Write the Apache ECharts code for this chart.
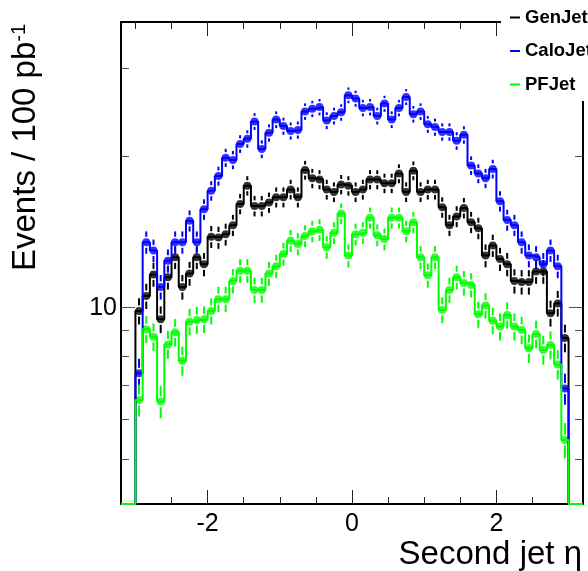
<!DOCTYPE html>
<html><head><meta charset="utf-8">
<script src="https://cdn.jsdelivr.net/npm/echarts@6/dist/echarts.min.js"></script>
<style>html,body{margin:0;padding:0;background:#fff}#c{width:588px;height:571px}</style>
</head><body><div id="c"></div>
<script>
// ---- data ----
const seriesNames = ['GenJet', 'CaloJet', 'PFJet'];
const seriesColors = ['#000000', '#0000ff', '#00ff00'];
const ETA_LOW = -3.0;      // first bin low edge
const BIN_WIDTH = 0.1;     // histogram bin width

const genJet = [9.85,10.55,11.65,9.48,11.5,12.6,11.0,11.7,12.6,12.2,
  13.85,13.8,14.0,14.6,16.1,17.5,15.95,15.95,16.2,16.6,
  16.6,17.2,16.6,18.8,18.1,18.0,17.2,17.0,17.6,17.5,
  17.0,17.2,18.0,18.0,17.7,17.7,18.5,17.0,18.75,17.0,
  17.2,17.2,15.85,14.6,15.2,15.8,14.8,14.4,12.7,13.3,
  12.5,12.2,11.3,11.25,11.25,11.8,11.8,9.75,10.2,8.7];
const genJetErr = [0.59,0.61,0.64,0.58,0.63,0.66,0.62,0.64,0.66,0.65,
  0.70,0.70,0.70,0.71,0.75,0.78,0.75,0.75,0.75,0.76,
  0.76,0.78,0.76,0.81,0.80,0.79,0.78,0.77,0.78,0.78,
  0.77,0.78,0.79,0.79,0.79,0.79,0.80,0.77,0.81,0.77,
  0.78,0.78,0.74,0.71,0.73,0.74,0.72,0.71,0.67,0.68,
  0.66,0.65,0.63,0.63,0.63,0.64,0.64,0.58,0.60,0.55];

const caloJet = [7.4,13.5,13.0,11.0,12.4,13.5,13.5,14.9,13.5,15.7,
  17.1,18.3,19.9,19.7,21.2,21.7,23.5,20.7,22.3,23.7,
  23.0,22.5,22.6,24.6,24.9,25.1,23.6,24.1,24.5,26.5,
  26.1,25.0,25.1,24.1,25.5,23.7,25.0,26.3,24.3,24.6,
  23.2,22.9,22.4,22.4,21.5,22.1,19.2,18.5,18.1,18.9,
  16.3,14.95,14.6,13.5,12.7,12.6,12.2,13.0,12.1,6.9];
const caloJetErr = [0.51,0.69,0.67,0.62,0.66,0.69,0.69,0.72,0.69,0.74,
  0.77,0.80,0.83,0.83,0.86,0.87,0.91,0.85,0.88,0.91,
  0.90,0.89,0.89,0.93,0.93,0.94,0.91,0.92,0.93,0.96,
  0.96,0.94,0.94,0.92,0.94,0.91,0.94,0.96,0.92,0.93,
  0.90,0.90,0.89,0.89,0.87,0.88,0.82,0.80,0.80,0.81,
  0.76,0.72,0.71,0.69,0.67,0.66,0.65,0.67,0.65,0.49];

const pfJet = [6.55,9.06,8.75,6.5,8.45,8.93,7.84,9.38,9.45,9.48,
  9.85,10.4,10.4,11.3,11.85,11.85,10.85,10.85,11.7,12.1,
  12.8,13.6,13.4,13.9,14.2,14.3,13.2,14.1,15.4,12.7,
  14.0,14.1,15.1,13.95,13.7,15.1,15.1,14.2,14.8,12.6,
  11.6,12.6,9.9,10.85,11.5,11.2,11.1,9.7,10.1,9.42,
  9.17,9.67,9.17,9.03,8.3,8.86,8.24,8.43,7.71,5.45];
const pfJetErr = [0.48,0.56,0.55,0.48,0.54,0.56,0.52,0.57,0.58,0.58,
  0.59,0.60,0.60,0.63,0.64,0.64,0.62,0.62,0.64,0.65,
  0.67,0.69,0.68,0.70,0.70,0.71,0.68,0.70,0.73,0.67,
  0.70,0.70,0.73,0.70,0.69,0.73,0.73,0.70,0.72,0.66,
  0.64,0.66,0.59,0.62,0.63,0.63,0.62,0.58,0.59,0.57,
  0.57,0.58,0.57,0.56,0.54,0.56,0.54,0.54,0.52,0.44];

const xMajorTicks = [-2, 0, 2];
const xMinorTicks = [-3, -2.5, -1.5, -1, -0.5, 0.5, 1, 1.5, 2.5, 3];
const yMajorTicks = [10];
const yMinorTicks = [5, 6, 7, 8, 9, 20, 30];

// axis ranges
const X_MIN = -3.2, X_MAX = 3.2;
const Y_MIN = 4.064, Y_MAX = 37.08;

const FONT = '"Liberation Sans", Arial, Helvetica, sans-serif';

// ---- build library data ----
const values = [genJet, caloJet, pfJet];
const errors = [genJetErr, caloJetErr, pfJetErr];

function round(v) { return Math.round(v * 1000) / 1000; }
function stepData(vals) {
  const d = [[X_MIN, Y_MIN], [ETA_LOW, Y_MIN]];
  vals.forEach((v, i) => {
    const lo = round(ETA_LOW + i * BIN_WIDTH);
    d.push([lo, v], [round(lo + BIN_WIDTH), v]);
  });
  d.push([round(ETA_LOW + vals.length * BIN_WIDTH), Y_MIN], [X_MAX, Y_MIN]);
  return d;
}
function pointData(vals, errs) {
  return vals.map((v, i) => [round(ETA_LOW + (i + 0.5) * BIN_WIDTH), v, errs[i]]);
}

const series = [];
values.forEach((vals, k) => {
  const color = seriesColors[k];
  series.push({
    name: seriesNames[k], type: 'line', data: stepData(vals),
    showSymbol: false, symbol: 'none', color: color,
    lineStyle: { color: color, width: 2 }, xAxisIndex: 0, yAxisIndex: 0,
    animation: false, silent: true
  });
  series.push({
    name: seriesNames[k] + ' err', type: 'custom', data: pointData(vals, errors[k]),
    xAxisIndex: 0, yAxisIndex: 0, animation: false, silent: true,
    encode: { x: 0, y: 1 },
    renderItem: function (params, api) {
      const x = api.value(0), v = api.value(1), e = api.value(2);
      const c = api.coord([x, v]);
      const t = api.coord([x, v + e]);
      const b = api.coord([x, v - e]);
      const gap = 5.5;
      const ch = [];
      if (c[1] - gap > t[1]) ch.push({ type: 'line', shape: { x1: c[0], y1: c[1] - gap, x2: c[0], y2: t[1] }, style: { stroke: color, lineWidth: 2 } });
      if (c[1] + gap < b[1]) ch.push({ type: 'line', shape: { x1: c[0], y1: c[1] + gap, x2: c[0], y2: b[1] }, style: { stroke: color, lineWidth: 2 } });
      return { type: 'group', children: ch };
    }
  });
  series.push({
    name: seriesNames[k] + ' pts', type: 'scatter', data: pointData(vals, errors[k]).map(p => [p[0], p[1]]),
    symbol: 'circle', symbolSize: 8, itemStyle: { color: color },
    xAxisIndex: 0, yAxisIndex: 0, animation: false, silent: true
  });
});

function xAxis(pos, ticks, len, labels, line) {
  return {
    type: 'value', position: pos, min: X_MIN, max: X_MAX, gridIndex: 0,
    axisLine: { show: line, onZero: false, lineStyle: { color: '#000', width: 2 } },
    axisTick: { show: true, inside: true, length: len, customValues: ticks, lineStyle: { color: '#222', width: 1 } },
    axisLabel: labels ? { show: true, customValues: labels, margin: 8, color: '#000', fontSize: 25, fontFamily: FONT,
      formatter: v => String(v) } : { show: false },
    splitLine: { show: false }
  };
}
function yAxis(pos, ticks, len, labels, line) {
  return {
    type: 'log', position: pos, min: Y_MIN, max: Y_MAX, gridIndex: 0, logBase: 10,
    axisLine: { show: line, onZero: false, lineStyle: { color: '#000', width: 2 } },
    axisTick: { show: true, inside: true, length: len, customValues: ticks, lineStyle: { color: '#555', width: 1 } },
    axisLabel: labels ? { show: true, customValues: labels, margin: 4, color: '#000', fontSize: 25, fontFamily: FONT,
      padding: [4, 0, 0, 0], formatter: v => String(Math.round(v)) } : { show: false },
    splitLine: { show: false }, minorTick: { show: false }, minorSplitLine: { show: false }
  };
}

const option = {
  backgroundColor: '#fff',
  animation: false,
  grid: { left: 121, right: 5, top: 22, bottom: 67, containLabel: false, outerBoundsMode: 'none' },
  xAxis: [
    xAxis('bottom', xMajorTicks, 14, xMajorTicks, true),
    xAxis('bottom', xMinorTicks, 7, null, false),
    xAxis('top', xMajorTicks, 14, null, true),
    xAxis('top', xMinorTicks, 7, null, false)
  ],
  yAxis: [
    yAxis('left', yMajorTicks, 14, yMajorTicks, true),
    yAxis('left', yMinorTicks, 8, null, false),
    yAxis('right', yMajorTicks, 14, null, true),
    yAxis('right', yMinorTicks, 8, null, false)
  ],
  legend: {
    data: seriesNames, orient: 'vertical', left: 501, top: 0,
    padding: [8, 6, 7, 9], itemGap: 14.5, itemWidth: 10, itemHeight: 2, itemTextGap: 0,
    icon: 'rect', backgroundColor: '#fff', selectedMode: false, z: 20,
    textStyle: { fontFamily: FONT, fontWeight: 'bold', fontSize: 18.5, color: '#000' }
  },
  graphic: [
    { type: 'text', x: 582, y: 555, z: 30,
      style: { text: 'Second jet η', font: '33px ' + FONT, align: 'right', verticalAlign: 'middle', fill: '#000' } },
    { type: 'text', x: 26, y: 271, rotation: Math.PI / 2, z: 30,
      style: { text: '{a|Events / 100 pb}{s|-1}', align: 'left', verticalAlign: 'middle', fill: '#000',
        rich: { a: { fontSize: 33, fontFamily: FONT, fill: '#000' }, s: { fontSize: 20, fontFamily: FONT, fill: '#000', verticalAlign: 'top' } } } }
  ],
  series: series
};

const chart = echarts.init(document.getElementById('c'), null, { renderer: 'canvas' });
chart.setOption(option);
</script>
</body></html>
